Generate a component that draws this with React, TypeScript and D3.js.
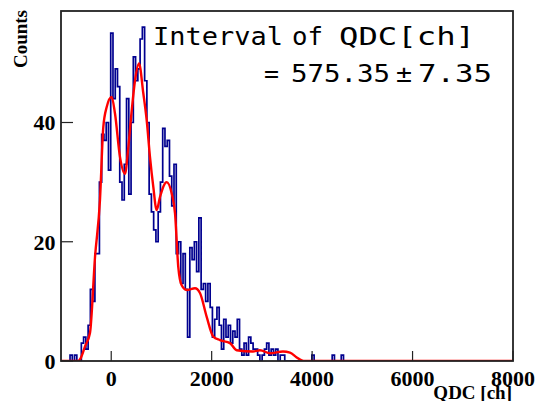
import React from "react";
import * as d3 from "d3";

const W = 539;
const H = 401;

// Histogram: 200 bins from -1000 to 8000 (45 ch per bin)
const xMin = -1000;
const xMax = 8000;
const nBins = 200;
const countsHead = [
  0, 0, 0, 0, 1, 0, 1, 0, 0, 3,
  4, 2, 6, 12, 10, 18, 18, 30, 38, 37,
  40, 32, 55, 44, 49, 46, 30, 27, 33, 44,
  28, 40, 51, 47, 49, 54, 56, 47, 40, 28,
  25, 22, 20, 25, 30, 39, 36, 37, 31, 26,
  33, 18, 20, 13, 18, 12, 4, 19, 17, 20,
  15, 24, 12, 13, 10, 13, 9, 4, 7, 9,
  6, 2, 7, 4, 6, 3, 5, 4, 7, 2,
  1, 3, 1, 4, 3, 2, 2, 1, 0, 1,
  2, 3, 1, 2, 1, 2, 0, 1, 1, 0,
  0, 0, 0, 0, 0, 0, 0, 0, 0, 0,
  0, 1, 0, 0, 0, 0, 0, 0, 0, 0,
  1, 0, 0, 0, 1,
];
const counts = countsHead.concat(new Array(nBins - countsHead.length).fill(0));

// Smoothed curve (red)
const smoothX = [
  -1000, -660, -620, -520, -423, -323, -224, -158, -90, 9, 75, 175, 274, 334, 408,
  473, 553, 639, 706, 772, 838, 905, 971, 1104, 1204, 1270, 1335, 1403, 1503,
  1668, 1767, 1901, 2032, 2166, 2365, 2498, 2823, 2962, 3161, 3420, 3559, 3693,
  3792, 3858, 8000,
];
const smoothY = [
  0, 0, 0.3, 2.5, 4.7, 17.4, 27, 39.2, 42.6, 44.3, 41.5, 34.2, 31.4, 35.3, 42,
  47, 49.9, 44.9, 40.4, 34.2, 29.2, 25.3, 27.5, 30, 28.1, 24.8, 15.8, 12.7, 11.9,
  12.2, 11.4, 7.4, 4.1, 3.5, 3.0, 1.8, 1.6, 1.8, 1.3, 1.6, 1.4, 0.6,
  0.1, 0, 0,
];

const xTicks = [0, 2000, 4000, 6000, 8000];
const yTicks = [0, 20, 40];
const yMax = 58.7;

const line1Words = ["Interval", "of", "QDC[ch]"];
const line2Words = ["=", "575.35", "\u00B1", "7.35"];

export default function App() {
  const left = 61, right = 513, top = 11, bottom = 361;
  const x = d3.scaleLinear().domain([xMin, xMax]).range([left, right]);
  const y = d3.scaleLinear().domain([0, yMax]).range([bottom, top]);
  const bw = (xMax - xMin) / nBins;

  const stepPts: [number, number][] = [[xMin, 0]];
  counts.forEach((c, i) => {
    stepPts.push([xMin + i * bw, c]);
  });
  stepPts.push([xMax, counts[nBins - 1]]);
  const histPath = d3
    .line<[number, number]>()
    .x((d) => x(d[0]))
    .y((d) => y(d[1]))
    .curve(d3.curveStepAfter)(stepPts) as string;

  const smoothPts: [number, number][] = smoothX.map((v, i) => [v, smoothY[i]]);
  const smoothPath = d3
    .line<[number, number]>()
    .x((d) => x(d[0]))
    .y((d) => y(d[1]))
    .curve(d3.curveMonotoneX)(smoothPts) as string;

  const serif = "'Liberation Serif', 'Times New Roman', serif";
  const mono = "'DejaVu Sans Mono', 'Liberation Mono', monospace";

  // word placement of the annotation (start x, advance width)
  const l1Pos = [
    [153, 130],
    [292, 31],
    [339, 136],
  ];
  const l2Pos = [
    [264, 15],
    [291, 99],
    [396, 16],
    [418, 74],
  ];

  return (
    <svg
      width={W}
      height={H}
      style={{ position: "absolute", left: 0, top: 0, background: "#fff" }}
    >
      <rect x={0} y={0} width={W} height={H} fill="#fff" />
      <defs>
        <clipPath id="frame">
          <rect x={left} y={top} width={right - left} height={bottom - top} />
        </clipPath>
      </defs>
      <g clipPath="url(#frame)">
        <path d={histPath} fill="none" stroke="#00008f" strokeWidth={1.7} />
        <path d={smoothPath} fill="none" stroke="#ff0000" strokeWidth={2.4} strokeLinejoin="round" />
      </g>
      {/* ticks */}
      {xTicks.map((t) => (
        <line key={"xt" + t} x1={x(t)} x2={x(t)} y1={bottom} y2={bottom - 10} stroke="#222" strokeWidth={1.2} />
      ))}
      {yTicks.map((t) => (
        <line key={"yt" + t} x1={left} x2={left + 12} y1={y(t)} y2={y(t)} stroke="#222" strokeWidth={1.2} />
      ))}
      <rect
        x={left}
        y={top}
        width={right - left}
        height={bottom - top}
        fill="none"
        stroke="#222"
        strokeWidth={1.8}
      />
      {/* tick labels */}
      {xTicks.map((t) => (
        <text
          key={"xl" + t}
          x={x(t)}
          y={386}
          textAnchor="middle"
          fontFamily={serif}
          fontWeight="bold"
          fontSize={22}
          fill="#000"
        >
          {t}
        </text>
      ))}
      {yTicks.map((t) => (
        <text
          key={"yl" + t}
          x={55.5}
          y={y(t) + 8}
          textAnchor="end"
          fontFamily={serif}
          fontWeight="bold"
          fontSize={22}
          fill="#000"
        >
          {t}
        </text>
      ))}
      {/* axis titles */}
      <text
        x={512}
        y={399}
        textAnchor="end"
        fontFamily={serif}
        fontWeight="bold"
        fontSize={19}
        fill="#000"
      >
        QDC [ch]
      </text>
      <text
        transform="translate(27,10) rotate(-90)"
        textAnchor="end"
        fontFamily={serif}
        fontWeight="bold"
        fontSize={19}
        fill="#000"
      >
        Counts
      </text>
      {/* annotation */}
      {line1Words.map((w, i) => (
        <text
          key={"a" + i}
          x={l1Pos[i][0]}
          y={45}
          fontFamily={mono}
          fontSize={25}
          fill="#000"
          textLength={l1Pos[i][1]}
          lengthAdjust="spacingAndGlyphs"
        >
          {w}
        </text>
      ))}
      {line2Words.map((w, i) => (
        <text
          key={"b" + i}
          x={l2Pos[i][0]}
          y={81.5}
          fontFamily={mono}
          fontSize={25}
          fill="#000"
          textLength={l2Pos[i][1]}
          lengthAdjust="spacingAndGlyphs"
        >
          {w}
        </text>
      ))}
    </svg>
  );
}
